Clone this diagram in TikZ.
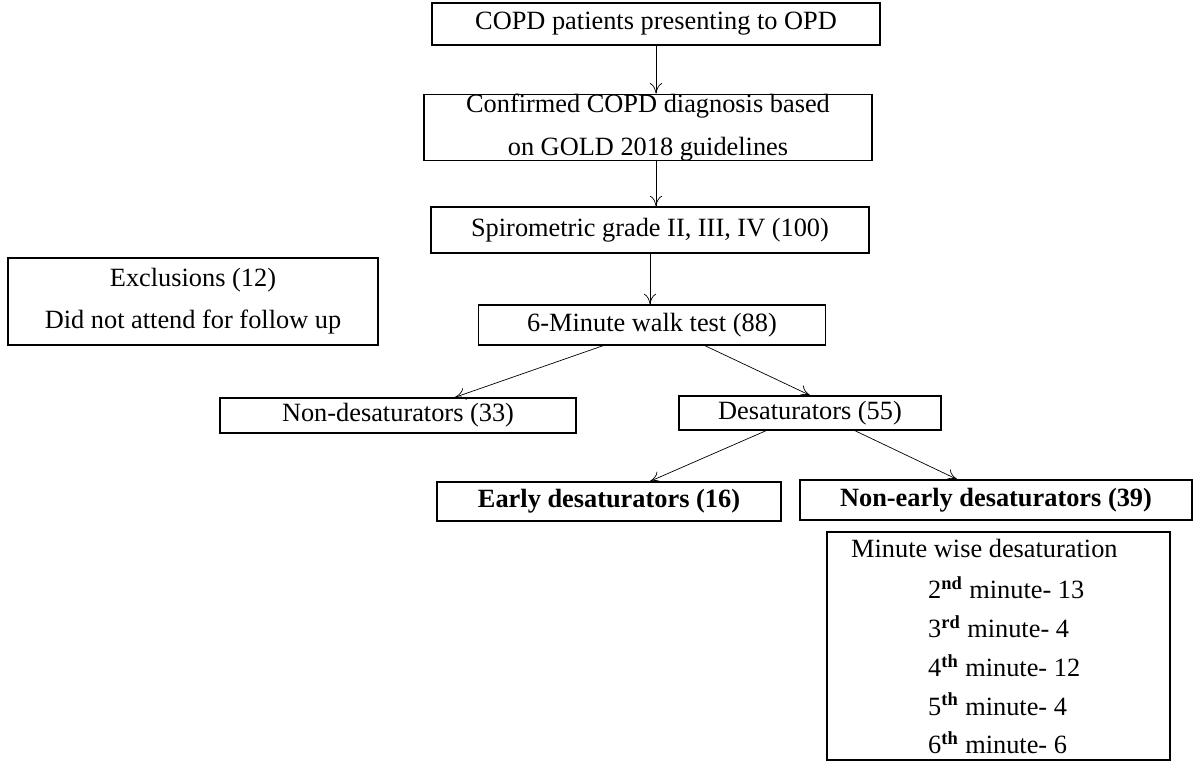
\documentclass[tikz,border=0pt]{standalone}
\usepackage{fontspec}
\setmainfont{Liberation Serif}
\usetikzlibrary{arrows.meta}
\tikzset{
  box/.style={draw, thick, inner sep=0pt, align=center, font=\fontsize{15}{24}\selectfont},
  arr/.style={-{To[length=6pt,width=7pt]}, thin},
}
\newcommand{\sups}[1]{\textbf{\textsuperscript{#1}}}
\begin{document}
\begin{tikzpicture}[x=0.02cm, y=-0.02cm]
    \useasboundingbox (0,0) rectangle (1200,764);

    \node[box, minimum width=8.96cm, minimum height=0.84cm] (copd) at (656,24) {COPD patients presenting to OPD};
    \node[box, minimum width=8.96cm, minimum height=1.3cm] (conf) at (648,127.5) {Confirmed COPD diagnosis based\\on GOLD 2018 guidelines};
    \node[box, minimum width=8.76cm, minimum height=0.92cm] (spiro) at (650,230) {Spirometric grade II, III, IV (100)};
    \node[box, minimum width=7.4cm, minimum height=1.74cm] (excl) at (193,301.5) {Exclusions (12)\\Did not attend for follow up};
    \node[box, minimum width=6.94cm, minimum height=0.8cm] (walk) at (652,325) {6-Minute walk test (88)};

    \node[box, minimum width=7.12cm, minimum height=0.7cm] (nondes) at (398,415.5) {Non-desaturators (33)};
    \node[box, minimum width=5.24cm, minimum height=0.68cm] (desat) at (810,413) {Desaturators (55)};

    \node[box, minimum width=6.88cm, minimum height=0.78cm, font=\fontsize{15}{18}\selectfont\bfseries] (early) at (609,501.5) {Early desaturators (16)};
    \node[box, minimum width=7.84cm, minimum height=0.8cm, font=\fontsize{15}{18}\selectfont\bfseries] (late) at (996,500) {Non-early desaturators (39)};

    \node[box, minimum width=6.86cm, minimum height=4.56cm] (minute) at (998.5,646) {};
    \node[anchor=west, font=\fontsize{15}{18}\selectfont] (mtitle) at (845,548) {Minute wise desaturation};
    \foreach \n/\s/\v [count=\i] in {2/nd/13, 3/rd/4, 4/th/12, 5/th/4, 6/th/6}
        \node[anchor=west, font=\fontsize{15}{18}\selectfont] (m\i) at (922,549+38.8*\i) {\n\sups{\s} minute- \v};

    \draw[arr] (copd.south) -- (conf.north -| copd.south);
    \draw[arr] (conf.south -| copd.south) -- (spiro.north -| copd.south);
    \draw[arr] (spiro.south) -- (walk.north -| spiro.south);
    \draw[arr] ([xshift=-0.98cm]walk.south) -- ([xshift=1.14cm]nondes.north);
    \draw[arr] ([xshift=1.06cm]walk.south) -- (desat.north);
    \draw[arr] ([xshift=-0.88cm]desat.south) -- ([xshift=0.82cm]early.north);
    \draw[arr] ([xshift=0.9cm]desat.south) -- ([xshift=-0.78cm]late.north);
\end{tikzpicture}
\end{document}
